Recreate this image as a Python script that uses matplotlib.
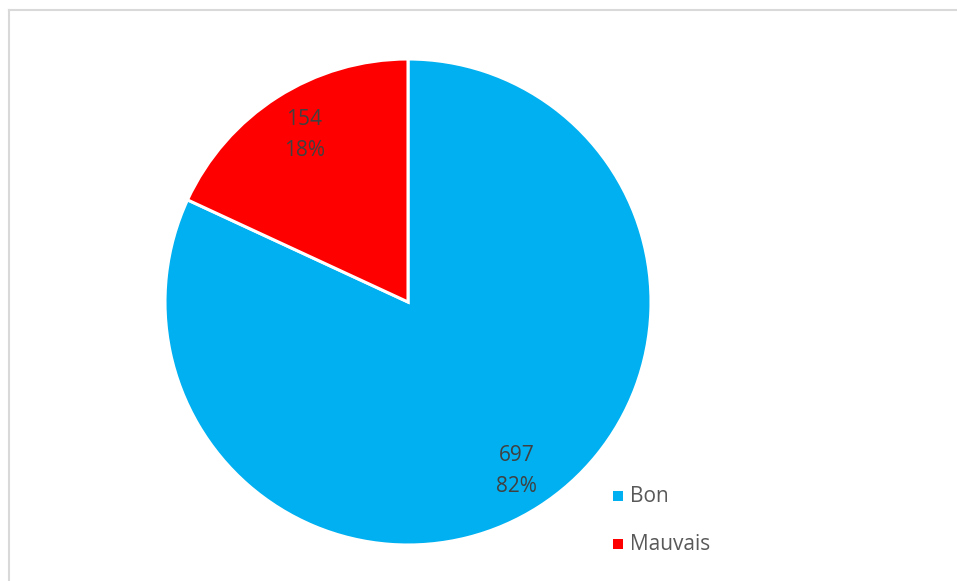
import matplotlib.pyplot as plt
from matplotlib.lines import Line2D
import numpy as np

# Data
categories = ['Bon', 'Mauvais']
counts = [697, 154]
colors = ['#00B0F0', '#FF0000']

plt.rcParams['font.family'] = ['Open Sans', 'DejaVu Sans']

fig = plt.figure(figsize=(9.57, 5.81), dpi=100)
W, H = 957, 581

# Pie axes: center (408, 302), radius 243 px
cx, cy, r = 408, 302, 243
ax = fig.add_axes([(cx - r) / W, 1 - (cy + r) / H, 2 * r / W, 2 * r / H])

total = sum(counts)
def fmt(pct):
    val = int(round(pct * total / 100.0))
    return '{}\n{:.0f}%'.format(val, pct)

ax.pie(counts, colors=colors, startangle=90, counterclock=False,
       wedgeprops=dict(edgecolor='white', linewidth=2.2), radius=1.0)
ax.set_xlim(-1, 1)
ax.set_ylim(-1, 1)
ax.set_aspect('auto')
ax.axis('off')

# labels at ~0.82 of radius, at each slice's middle
start = 90.0
for v in counts:
    frac = v / total
    mid = np.deg2rad(start - frac * 360 / 2)
    start -= frac * 360
    ax.text(0.81 * np.cos(mid) + 0.01, 0.82 * np.sin(mid) - 0.005, fmt(frac * 100),
            ha='center', va='center', fontsize=15, color='#404040',
            linespacing=1.6)

# Legend
for i, (cat, col) in enumerate(zip(categories, colors)):
    y = 496 + i * 48
    fig.patches.append(plt.Rectangle((613 / W, 1 - (y + 5) / H), 10 / W, 10 / H,
                                     transform=fig.transFigure, facecolor=col,
                                     edgecolor='none'))
    fig.text(630 / W, 1 - y / H, cat, ha='left', va='center', fontsize=15,
             color='#595959')

# Chart border (left and top visible)
fig.add_artist(Line2D([8.5 / W, 8.5 / W], [0, 1 - 9.5 / H], transform=fig.transFigure,
                      color='#D9D9D9', linewidth=1.5))
fig.add_artist(Line2D([8.5 / W, 1], [1 - 9.5 / H, 1 - 9.5 / H], transform=fig.transFigure,
                      color='#D9D9D9', linewidth=1.5))

fig.savefig('out.png', dpi=100)
